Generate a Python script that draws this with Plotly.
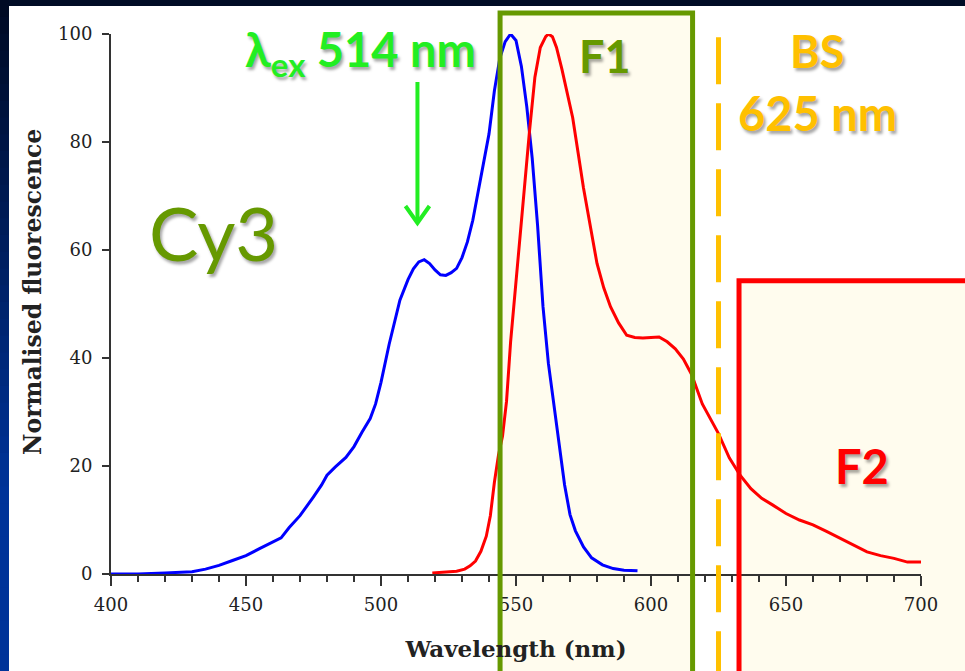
import plotly.graph_objects as go

# ---------------- data ----------------
absorb_wl = [400, 410, 420, 425, 430, 435, 440, 445, 450, 455, 460, 463, 466, 470, 475, 478,
             480, 483, 487, 490, 493, 496, 498, 500, 503, 505, 507, 510, 512, 514, 516, 518,
             520, 522, 524, 526, 528, 530, 532, 534, 536, 538, 540, 542, 544, 546, 548, 550,
             552, 554, 556, 558, 560, 562, 564, 566, 568, 570, 572, 575, 578, 582, 586, 590, 595]
absorb_val = [0, 0, 0.2, 0.3, 0.4, 0.9, 1.6, 2.5, 3.4, 4.7, 6.0, 6.7, 8.6, 10.8, 14.3, 16.5,
              18.3, 19.8, 21.6, 23.6, 26.3, 28.8, 31.5, 35.5, 42.5, 46.5, 50.7, 54.5, 56.5, 57.8, 58.2, 57.5,
              56.3, 55.4, 55.3, 55.8, 56.6, 58.6, 61.5, 65.5, 71, 76.5, 81.5, 89.5, 95.5, 98.6, 100, 98.8,
              94, 86.5, 77, 64.5, 49.5, 39, 31.5, 24, 16.5, 11, 8, 5, 3, 1.7, 1.0, 0.7, 0.6]

emiss_wl = [519, 524, 528, 531, 533, 535, 537, 539, 540.5, 542, 543.5, 545, 546.5, 548, 549.5, 551,
            553, 555, 557, 559, 561, 562, 563.5, 565, 567, 569, 571, 573, 575, 577.5, 580, 582.5,
            585, 588, 591, 594, 597, 600, 603, 606, 609, 612, 615, 619, 622, 625, 629, 633, 637,
            641, 645, 650, 655, 660, 665, 670, 675, 680, 685, 690, 695, 700]
emiss_val = [0.2, 0.3, 0.5, 0.9, 1.5, 2.4, 4.2, 7, 10.8, 17, 22, 25.5, 32, 43, 51.5, 60.5,
             71, 82, 92, 97.5, 99.5, 100, 99.5, 97.5, 93.5, 89, 84.5, 78, 71.5, 64.5, 57.5, 53,
             49.5, 46.5, 44.2, 43.8, 43.7, 43.8, 43.9, 43, 41.7, 39.8, 37, 31.5, 28.8, 26, 21.5, 18.3, 15.8,
             14, 12.8, 11.2, 10, 9.1, 7.9, 6.6, 5.3, 4.1, 3.4, 2.9, 2.2, 2.2]

x_tick_vals = [400, 450, 500, 550, 600, 650, 700]
y_tick_vals = [0, 20, 40, 60, 80, 100]

F1_BAND = [544.1, 615.4]   # nm
F1_TOP = 103.9
F2_START = 632.6           # nm
F2_TOP = 54.3
BS_WL = 625                # nm
BS_TOP = 99.4
EX_ARROW_X = 513.5
EX_ARROW_Y = [91.1, 65.0]

# ---------------- layout geometry ----------------
FIG_W, FIG_H = 965, 671
M = dict(l=111, r=44, t=34, b=97)
XR = [400, 700]
YR = [0, 100]
PW = FIG_W - M["l"] - M["r"]
PH = FIG_H - M["t"] - M["b"]


def xp(nm):
    return (nm - XR[0]) / (XR[1] - XR[0])


def yp(v):
    return (v - YR[0]) / (YR[1] - YR[0])


def px2x(px):
    return (px - M["l"]) / PW


def py2y(py):
    return (FIG_H - M["b"] - py) / PH


BLUE = "#0000ff"
RED = "#ff0000"
OLIVE = "#669900"
GOLD = "#ffc000"
LIME = "#22ee22"
CREAM = "#fffcee"
SHADOW = "2px 3px 3px rgba(0,0,0,0.35)"

fig = go.Figure()
fig.add_trace(go.Scatter(x=absorb_wl, y=absorb_val, mode="lines",
                         line=dict(color=BLUE, width=3), showlegend=False, hoverinfo="skip"))
fig.add_trace(go.Scatter(x=emiss_wl, y=emiss_val, mode="lines",
                         line=dict(color=RED, width=3), showlegend=False, hoverinfo="skip"))

shapes = []
# slide background: dark top band and left gradient strip
shapes.append(dict(type="rect", xref="paper", yref="paper", layer="below",
                   x0=px2x(-5), x1=px2x(FIG_W + 5), y0=py2y(6), y1=py2y(-5),
                   fillcolor="#000c26", line=dict(width=0)))
N = 40
top_c = (0x00, 0x0a, 0x24)
bot_c = (0x00, 0x33, 0x99)
for i in range(N):
    y_a = i * FIG_H / N
    y_b = (i + 1) * FIG_H / N + 1
    t = min(1.0, (y_a / 480.0))
    c = tuple(int(round(top_c[k] + (bot_c[k] - top_c[k]) * t)) for k in range(3))
    shapes.append(dict(type="rect", xref="paper", yref="paper", layer="below",
                       x0=px2x(-5), x1=px2x(9), y0=py2y(y_b), y1=py2y(y_a),
                       fillcolor="rgb(%d,%d,%d)" % c, line=dict(width=0)))

# filter fills (below curves)
shapes.append(dict(type="rect", xref="paper", yref="paper", layer="below",
                   x0=xp(F1_BAND[0]), x1=xp(F1_BAND[1]), y0=yp(-25), y1=yp(F1_TOP),
                   fillcolor=CREAM, line=dict(width=0)))
shapes.append(dict(type="rect", xref="paper", yref="paper", layer="below",
                   x0=xp(F2_START), x1=xp(730), y0=yp(-25), y1=yp(F2_TOP),
                   fillcolor=CREAM, line=dict(width=0)))
# filter outlines (above curves)
shapes.append(dict(type="rect", xref="paper", yref="paper", layer="above",
                   x0=xp(F1_BAND[0]), x1=xp(F1_BAND[1]), y0=yp(-25), y1=yp(F1_TOP),
                   fillcolor="rgba(0,0,0,0)", line=dict(color=OLIVE, width=5)))
shapes.append(dict(type="line", xref="paper", yref="paper", layer="above",
                   x0=xp(BS_WL), x1=xp(BS_WL), y0=yp(BS_TOP), y1=yp(-25),
                   line=dict(color=GOLD, width=5, dash="47px,19px")))
shapes.append(dict(type="rect", xref="paper", yref="paper", layer="above",
                   x0=xp(F2_START), x1=xp(730), y0=yp(-25), y1=yp(F2_TOP),
                   fillcolor="rgba(0,0,0,0)", line=dict(color=RED, width=5)))
# excitation arrow
shapes.append(dict(type="line", xref="x", yref="y", layer="above",
                   x0=EX_ARROW_X, x1=EX_ARROW_X, y0=EX_ARROW_Y[0], y1=EX_ARROW_Y[1] + 0.3,
                   line=dict(color=LIME, width=4)))
ah_dx, ah_dy = 12 / PW * (XR[1] - XR[0]), 17 / PH * (YR[1] - YR[0])
shapes.append(dict(type="path", xref="x", yref="y", layer="above",
                   path="M %f,%f L %f,%f L %f,%f" % (EX_ARROW_X - ah_dx, EX_ARROW_Y[1] + ah_dy,
                                                      EX_ARROW_X, EX_ARROW_Y[1],
                                                      EX_ARROW_X + ah_dx, EX_ARROW_Y[1] + ah_dy),
                   line=dict(color=LIME, width=4)))

tick_font = dict(family="DejaVu Serif", size=18, color="#222222")
title_font = dict(family="DejaVu Serif", size=23, color="#222222", weight="bold")

annots = [
    dict(text="Cy3", x=px2x(213), y=py2y(232), font=dict(family="Lato", size=74, color=OLIVE, shadow=SHADOW)),
    dict(text="λ<sub>ex</sub> 514 nm", x=px2x(360), y=py2y(52),
         font=dict(family="Lato", size=47, color=LIME, weight="bold", shadow=SHADOW)),
    dict(text="F1", x=px2x(605), y=py2y(56), font=dict(family="Lato", size=45, color=OLIVE, weight="bold", shadow=SHADOW)),
    dict(text="BS", x=px2x(817), y=py2y(51), font=dict(family="Lato", size=45, color=GOLD, weight="bold", shadow=SHADOW)),
    dict(text="625 nm", x=px2x(817), y=py2y(113), font=dict(family="Lato", size=47, color=GOLD, weight="bold", shadow=SHADOW)),
    dict(text="F2", x=px2x(862), y=py2y(466), font=dict(family="Lato", size=47, color=RED, weight="bold", shadow=SHADOW)),
    dict(text="Normalised fluorescence", x=px2x(33), y=py2y(292), textangle=-90,
         font=dict(family="DejaVu Serif", size=23.5, color="#222222", weight="bold")),
]
for a in annots:
    a.update(xref="paper", yref="paper", showarrow=False, xanchor="center", yanchor="middle")

fig.update_layout(
    width=FIG_W, height=FIG_H,
    margin=dict(l=M["l"], r=M["r"], t=M["t"], b=M["b"], autoexpand=False),
    paper_bgcolor="white", plot_bgcolor="rgba(0,0,0,0)",
    shapes=shapes, annotations=annots, showlegend=False,
    xaxis=dict(range=XR, tickvals=x_tick_vals, ticks="outside", ticklen=10, tickwidth=1.5,
               tickcolor="#333333", showline=True, linecolor="#333333", linewidth=2,
               showgrid=False, zeroline=False, tickfont=tick_font, ticklabelstandoff=3,
               minor=dict(dtick=10, tick0=400, ticks="outside", ticklen=6, tickwidth=1.5, tickcolor="#333333", showgrid=False),
               title=dict(text="Wavelength (nm)", font=title_font, standoff=27)),
    yaxis=dict(range=YR, tickvals=y_tick_vals, ticks="outside", ticklen=7, tickwidth=1.5,
               tickcolor="#333333", showline=True, linecolor="#333333", linewidth=2,
               showgrid=False, zeroline=False, tickfont=tick_font, ticklabelstandoff=6),
)

fig.write_html("out.html", config={"displayModeBar": False},
               post_script="document.body.style.margin='0';document.body.style.overflow='hidden';"
                           "document.documentElement.style.overflow='hidden';")
